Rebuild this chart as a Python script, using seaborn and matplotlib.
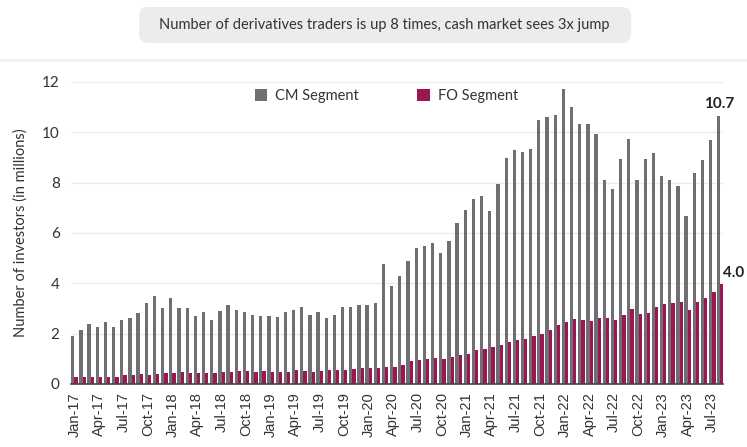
import pandas as pd
import matplotlib.pyplot as plt
import seaborn as sns
from matplotlib.patches import FancyBboxPatch
from matplotlib.transforms import IdentityTransform

# Monthly data, Jan-17 to Aug-23 (millions of investors)
months = list(pd.date_range('2017-01-01', periods=80, freq='MS').strftime('%b-%y'))

cm_segment = [1.92, 2.16, 2.40, 2.25, 2.48, 2.25, 2.53, 2.63, 2.82, 3.21, 3.48, 3.03,
              3.43, 3.00, 3.00, 2.69, 2.84, 2.55, 2.89, 3.12, 2.95, 2.87, 2.72, 2.71,
              2.71, 2.67, 2.84, 2.95, 3.04, 2.72, 2.86, 2.61, 2.72, 3.07, 3.05, 3.12,
              3.15, 3.20, 4.78, 3.91, 4.29, 4.89, 5.39, 5.48, 5.61, 5.20, 5.68, 6.40,
              6.89, 7.36, 7.48, 6.87, 7.96, 8.97, 9.28, 9.23, 9.35, 10.48, 10.61, 10.67,
              11.71, 10.99, 10.33, 10.32, 9.91, 8.11, 7.73, 8.92, 9.72, 8.11, 8.92, 9.16,
              8.24, 8.11, 7.87, 6.68, 8.36, 8.88, 9.67, 10.66]

fo_segment = [0.29, 0.29, 0.29, 0.29, 0.29, 0.29, 0.35, 0.36, 0.39, 0.37, 0.40, 0.43,
              0.44, 0.47, 0.44, 0.44, 0.45, 0.44, 0.47, 0.48, 0.53, 0.50, 0.47, 0.50,
              0.49, 0.48, 0.48, 0.56, 0.52, 0.49, 0.50, 0.57, 0.57, 0.57, 0.59, 0.63,
              0.64, 0.65, 0.68, 0.68, 0.76, 0.90, 0.96, 0.99, 1.03, 1.01, 1.09, 1.16,
              1.20, 1.35, 1.40, 1.45, 1.55, 1.67, 1.73, 1.80, 1.91, 2.00, 2.16, 2.33,
              2.48, 2.57, 2.56, 2.51, 2.61, 2.61, 2.56, 2.75, 2.99, 2.77, 2.81, 3.07,
              3.17, 3.23, 3.27, 2.93, 3.25, 3.41, 3.67, 3.97]

segments = ['CM Segment', 'FO Segment']
colors = ['#6f6f73', '#9b1652']

df = pd.DataFrame({
    'Month': months * 2,
    'Investors': cm_segment + fo_segment,
    'Segment': [segments[0]] * len(months) + [segments[1]] * len(months),
})

sns.set_style('white')
plt.rcParams['font.family'] = ['Lato', 'DejaVu Sans']

fig = plt.figure(figsize=(7.47, 4.47), dpi=100)
ax = fig.add_axes([0.0947, 0.141, 0.873, 0.676])

sns.barplot(data=df, x='Month', y='Investors', hue='Segment', order=months,
            hue_order=segments, palette=colors, saturation=1, width=0.8, gap=0,
            linewidth=0, ax=ax)

ax.set_xlim(-0.44, 79.3)
ax.set_ylim(0, 12)
ax.set_yticks(range(0, 13, 2))
ax.tick_params(axis='y', length=0, pad=8, labelsize=11, labelcolor='#333333')
ax.set_xticks(range(0, len(months), 3))
ax.set_xticklabels(months[::3], rotation=90, fontsize=10.5, color='#333333',
                   family='Liberation Sans')
ax.tick_params(axis='x', length=0, pad=6)
ax.grid(axis='y', color='#ebebeb', linewidth=1)
ax.set_axisbelow(True)
for side in ['left', 'right', 'top']:
    ax.spines[side].set_visible(False)
ax.spines['bottom'].set_color('#444444')
ax.spines['bottom'].set_linewidth(1.2)
ax.set_xlabel('')
ax.set_ylabel('Number of investors (in millions)', fontsize=10.5, color='#333333',
              labelpad=10)

# end-of-series labels
last = len(months) - 1
ax.annotate(f'{cm_segment[-1]:.1f}', (last - 0.2, cm_segment[-1]), xytext=(0, 3),
            textcoords='offset points', ha='center', va='bottom', fontsize=11,
            fontweight='bold', color='#222222', annotation_clip=False)
ax.annotate(f'{fo_segment[-1]:.1f}', (last + 0.2, fo_segment[-1]), xytext=(8, 3),
            textcoords='offset points', ha='center', va='bottom', fontsize=11,
            fontweight='bold', color='#222222', annotation_clip=False)

leg = ax.legend(ncol=2, frameon=False, loc='center', bbox_to_anchor=(0.517, 0.785),
                bbox_transform=fig.transFigure, fontsize=10.5, handlelength=0.85,
                handleheight=0.85, handletextpad=0.55, columnspacing=4.0)
for t in leg.get_texts():
    t.set_color('#333333')

# title box
fig.patches.append(FancyBboxPatch((139, 447 - 43), 492, 36,
                                  boxstyle='round,pad=0,rounding_size=9',
                                  facecolor='#ececec', edgecolor='none',
                                  transform=IdentityTransform(), figure=fig))
fig.text(0.515, 1 - 25 / 447, 'Number of derivatives traders is up 8 times, cash market sees 3x jump',
         ha='center', va='center', fontsize=10.5, color='#333333')
fig.add_artist(plt.Line2D([0, 1], [1 - 60 / 447, 1 - 60 / 447], transform=fig.transFigure,
                          color='#f3f3f3', linewidth=2))

fig.savefig('out.png', dpi=100)
